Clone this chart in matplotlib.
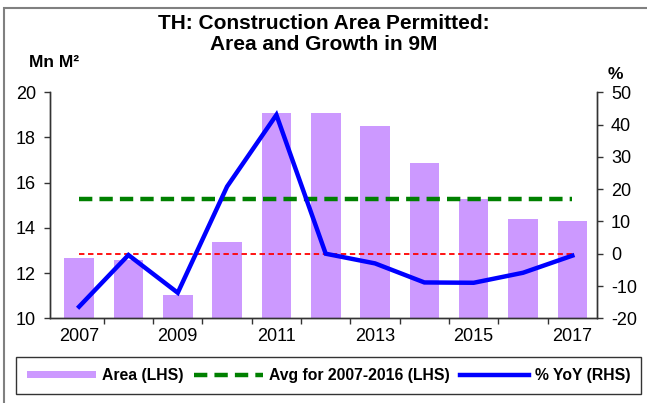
import numpy as np
import matplotlib.pyplot as plt
from matplotlib.patches import Rectangle

plt.rcParams['font.family'] = ['Liberation Sans', 'DejaVu Sans']
plt.rcParams['axes.unicode_minus'] = False

# Data
years = [2007, 2008, 2009, 2010, 2011, 2012, 2013, 2014, 2015, 2016, 2017]
area = [12.65, 12.6, 11.05, 13.38, 19.1, 19.1, 18.5, 16.85, 15.3, 14.4, 14.3]
yoy = [-16.4, -0.4, -12.1, 20.8, 43.0, 0.0, -3.0, -8.9, -9.0, -5.9, -0.6]
avg_area = 15.3
zero_line = 0.0
tick_years = [2007, 2009, 2011, 2013, 2015, 2017]

x = np.arange(len(years))

fig = plt.figure(figsize=(6.47, 4.03), dpi=100)
ax = fig.add_axes([0.0773, 0.2102, 0.8454, 0.5608])
ax2 = ax.twinx()

bars = ax.bar(x, area, width=0.6, color="#CC99FF", zorder=1)
avg_line, = ax.plot(x, [avg_area] * len(x), color="#008000", lw=3.2,
                    ls=(0, (3, 1.6)), zorder=3)
ax2.plot(x, [zero_line] * len(x), color="#FF0000", lw=1.3, ls=(0, (3, 2)), zorder=2)
yoy_line, = ax2.plot(x, yoy, color="#0000FF", lw=3.2, zorder=4,
                     solid_joinstyle="miter")

ax.set_xlim(-0.59, 10.5)
ax.set_ylim(10, 20)
ax.set_yticks([10, 12, 14, 16, 18, 20])
ax2.set_ylim(-20, 50)
ax2.set_yticks(range(-20, 51, 10))

# x ticks at category boundaries, labels at every other category
ax.set_xticks(np.arange(0.5, 10.5, 1.0))
ax.set_xticklabels([])
ax.set_xticks([years.index(y) for y in tick_years], minor=True)
ax.set_xticklabels([str(y) for y in tick_years], minor=True)
ax.tick_params(axis="x", which="minor", length=0, pad=7, labelsize=13)
ax.tick_params(axis="x", which="major", length=4, width=1, color="#333333")
ax.tick_params(axis="y", length=4, width=1, pad=6, labelsize=13, color="#333333")
ax2.tick_params(axis="y", length=4, width=1, pad=6, labelsize=13, color="#333333")

for a in (ax, ax2):
    a.spines["top"].set_visible(False)
    for s in ("left", "right", "bottom"):
        a.spines[s].set_color("#333333")
        a.spines[s].set_linewidth(1)

fig.text(0.5, 0.942, "TH: Construction Area Permitted:", ha="center", va="center",
         fontsize=15, fontweight="bold")
fig.text(0.5, 0.889, "Area and Growth in 9M", ha="center", va="center",
         fontsize=15, fontweight="bold")
fig.text(0.083, 0.845, "Mn M²", ha="center", va="center", fontsize=12.5, fontweight="bold")
fig.text(0.951, 0.815, "%", ha="center", va="center", fontsize=12.5, fontweight="bold")

leg = fig.legend([bars, avg_line, yoy_line],
                 ["Area (LHS)", "Avg for 2007-2016 (LHS)", "% YoY (RHS)"],
                 loc="center", bbox_to_anchor=(0.508, 0.068), ncol=3,
                 frameon=True, fancybox=False, handlelength=4.4, handleheight=0.4,
                 columnspacing=0.7, handletextpad=0.35, borderpad=0.7,
                 prop={"weight": "bold", "size": 11.3})
leg.get_frame().set_edgecolor("black")
leg.get_frame().set_linewidth(1)

# outer chart border (top and left visible)
fig.add_artist(Rectangle((4 / 647, -0.1), 1.2, 1.1 - 8 / 403, transform=fig.transFigure,
                         fill=False, edgecolor="#808080", lw=1.5))

fig.savefig("out.png", dpi=100)
